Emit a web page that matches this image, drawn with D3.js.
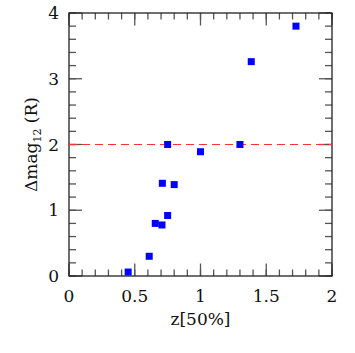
<!DOCTYPE html>
<html>
<head>
<meta charset="utf-8">
<script src="https://cdn.jsdelivr.net/npm/d3@7"></script>
<style>
  body { margin: 0; background: #fff; }
  text { font-family: "DejaVu Serif", "Liberation Serif", serif; fill: #111; }
</style>
</head>
<body>
<div id="chart"></div>
<script>
// redshift and magnitude difference for each object
var zValues  = [0.45, 0.61, 0.656, 0.707, 0.75, 0.71, 0.80, 0.75, 1.00, 1.30, 1.386, 1.726];
var dmValues = [0.06, 0.30, 0.80, 0.776, 0.92, 1.41, 1.39, 2.00, 1.89, 2.00, 3.26, 3.80];
var xTicks = [0, 0.5, 1, 1.5, 2];
var xTickLabels = ["0", "0.5", "1", "1.5", "2"];
var yTicks = [0, 1, 2, 3, 4];
var refLevel = 2;

var W = 355, H = 353;
var margin = { top: 13, right: 23, bottom: 77, left: 69 };
var width = W - margin.left - margin.right;
var height = H - margin.top - margin.bottom;

var svg = d3.select("#chart").append("svg")
    .attr("width", W)
    .attr("height", H)
    .append("g")
    .attr("transform", "translate(" + margin.left + "," + margin.top + ")");

var x = d3.scaleLinear().domain([0, 2]).range([0, width]);
var y = d3.scaleLinear().domain([0, 4]).range([height, 0]);

// minor + major ticks, pointing inwards on all four sides
function tickSet(scale, step, len) {
    var dom = scale.domain();
    var out = [];
    for (var v = dom[0]; v <= dom[1] + 1e-9; v += step) out.push(+v.toFixed(6));
    return out.map(function(v){ return { v: v, len: len }; });
}

var tickColor = "#555";
var xMinor = tickSet(x, 0.1, 6.5), xMajor = tickSet(x, 0.5, 12.5);
var yMinor = tickSet(y, 0.2, 7), yMajor = tickSet(y, 1, 13);

[xMinor, xMajor].forEach(function(set){
    svg.selectAll(null).data(set).enter().append("line")
        .attr("x1", function(d){ return x(d.v); }).attr("x2", function(d){ return x(d.v); })
        .attr("y1", height).attr("y2", function(d){ return height - d.len; })
        .attr("stroke", tickColor).attr("stroke-width", 1.3);
    svg.selectAll(null).data(set).enter().append("line")
        .attr("x1", function(d){ return x(d.v); }).attr("x2", function(d){ return x(d.v); })
        .attr("y1", 0).attr("y2", function(d){ return d.len; })
        .attr("stroke", tickColor).attr("stroke-width", 1.3);
});
[yMinor, yMajor].forEach(function(set){
    svg.selectAll(null).data(set).enter().append("line")
        .attr("y1", function(d){ return y(d.v); }).attr("y2", function(d){ return y(d.v); })
        .attr("x1", 0).attr("x2", function(d){ return d.len; })
        .attr("stroke", tickColor).attr("stroke-width", 1.3);
    svg.selectAll(null).data(set).enter().append("line")
        .attr("y1", function(d){ return y(d.v); }).attr("y2", function(d){ return y(d.v); })
        .attr("x1", width).attr("x2", function(d){ return width - d.len; })
        .attr("stroke", tickColor).attr("stroke-width", 1.3);
});

// frame
svg.append("rect")
    .attr("width", width).attr("height", height)
    .attr("fill", "none").attr("stroke", "#222").attr("stroke-width", 1.3);

// tick labels
svg.selectAll(".xlab").data(xTicks).enter().append("text")
    .attr("class", "xlab")
    .attr("x", function(d){ return x(d); })
    .attr("y", height + 26)
    .attr("text-anchor", "middle")
    .style("font-size", "17px")
    .text(function(d, i){ return xTickLabels[i]; });

svg.selectAll(".ylab").data(yTicks).enter().append("text")
    .attr("class", "ylab")
    .attr("x", -10)
    .attr("y", function(d){ return y(d); })
    .attr("dy", "0.36em")
    .attr("text-anchor", "end")
    .style("font-size", "17px")
    .text(function(d){ return d; });

// reference line
svg.append("line")
    .attr("x1", 0).attr("x2", width)
    .attr("y1", y(refLevel)).attr("y2", y(refLevel))
    .attr("stroke", "#f33").attr("stroke-width", 1.2)
    .attr("stroke-dasharray", "8,5");

// points
var pts = zValues.map(function(z, i){ return { z: z, dm: dmValues[i] }; });
svg.selectAll(".pt").data(pts).enter().append("rect")
    .attr("class", "pt")
    .attr("x", function(d){ return x(d.z) - 3.5; })
    .attr("y", function(d){ return y(d.dm) - 3.5; })
    .attr("width", 7).attr("height", 7)
    .attr("fill", "#0000ff");

// axis titles
svg.append("text")
    .attr("x", width / 2)
    .attr("y", height + 49)
    .attr("text-anchor", "middle")
    .style("font-size", "17px")
    .text("z[50%]");

var yt = svg.append("text")
    .attr("transform", "translate(-32," + (height / 2) + ")rotate(-90)")
    .attr("text-anchor", "middle")
    .style("font-size", "17px");
yt.append("tspan").text("Δmag");
yt.append("tspan").attr("dy", 4).style("font-size", "11px").text("12");
yt.append("tspan").attr("dy", -4).text(" (R)");
</script>
</body>
</html>
